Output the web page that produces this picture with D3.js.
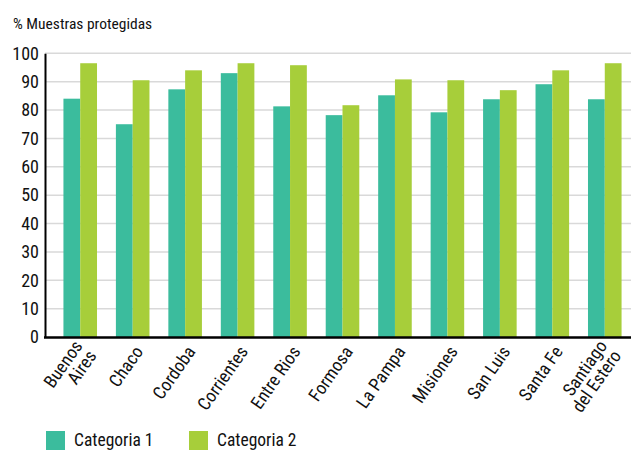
<!DOCTYPE html>
<html>
<head>
<meta charset="utf-8">
<script src="https://cdn.jsdelivr.net/npm/d3@7"></script>
<style>
  body { margin: 0; background: #fff; }
  text { font-family: "Roboto Condensed", "Roboto", sans-serif; fill: #111; }
</style>
</head>
<body>
<div id="chart"></div>
<script>
(function () {

  // provinces, two lines where the label wraps
  const provincias = ['Buenos Aires', 'Chaco', 'Cordoba', 'Corrientes', 'Entre Rios', 'Formosa',
    'La Pampa', 'Misiones', 'San Luis', 'Santa Fe', 'Santiago del Estero']
  const etiquetas = [['Buenos', 'Aires'], ['Chaco'], ['Cordoba'], ['Corrientes'], ['Entre Rios'], ['Formosa'],
    ['La Pampa'], ['Misiones'], ['San Luis'], ['Santa Fe'], ['Santiago', 'del Estero']]

  const categoria1 = [84, 75, 87.3, 93, 81.3, 78.2, 85.2, 79.2, 83.8, 89.1, 83.8]
  const categoria2 = [96.5, 90.5, 94, 96.5, 95.8, 81.7, 90.8, 90.5, 87, 94, 96.5]

  const series = ['Categoria 1', 'Categoria 2']
  const yTicks = [0, 10, 20, 30, 40, 50, 60, 70, 80, 90, 100]

  const width = 631
  const height = 450

  const svg = d3.select('#chart').append('svg')
    .attr('width', width)
    .attr('height', height)

  const xPositionScale = d3.scaleBand()
    .domain(provincias)
    .range([54, 631])
    .paddingInner(0.36)
    .paddingOuter(0.18)

  const xInner = d3.scaleBand()
    .domain(series)
    .range([0, xPositionScale.bandwidth()])

  const yPositionScale = d3.scaleLinear()
    .domain([0, 100])
    .range([337, 53.3])

  const colorScale = d3.scaleOrdinal()
    .domain(series)
    .range(['#3bbc9d', '#a7ce3a'])

  // gridlines
  svg.append('g')
    .selectAll('line')
    .data(yTicks.filter(d => d > 0))
    .join('line')
    .attr('x1', 45)
    .attr('x2', width)
    .attr('y1', d => yPositionScale(d))
    .attr('y2', d => yPositionScale(d))
    .attr('stroke', '#d9d9d9')
    .attr('stroke-width', 1.5)

  const datapoints = provincias.map((p, i) => ({
    provincia: p,
    valores: [categoria1[i], categoria2[i]]
  }))

  const groups = svg.append('g')
    .selectAll('g')
    .data(datapoints)
    .join('g')
    .attr('transform', d => 'translate(' + xPositionScale(d.provincia) + ',0)')

  groups.selectAll('rect')
    .data(d => d.valores.map((v, i) => ({ serie: series[i], valor: v })))
    .join('rect')
    .attr('x', d => xInner(d.serie))
    .attr('width', xInner.bandwidth())
    .attr('y', d => yPositionScale(d.valor))
    .attr('height', d => yPositionScale(0) - yPositionScale(d.valor))
    .attr('fill', d => colorScale(d.serie))

  // y axis
  const yAxis = d3.axisLeft(yPositionScale)
    .tickValues(yTicks)
    .tickSize(0)
    .tickPadding(6)
  const yG = svg.append('g')
    .attr('transform', 'translate(45,0)')
    .call(yAxis)
  yG.select('.domain').attr('stroke', '#000').attr('stroke-width', 2)
  yG.selectAll('text')
    .style('font-size', '18px')
    .style('font-family', '"Roboto Condensed", "Roboto", sans-serif')
    .attr('fill', '#111')

  // x axis line
  svg.append('line')
    .attr('x1', 44)
    .attr('x2', width)
    .attr('y1', 337.5)
    .attr('y2', 337.5)
    .attr('stroke', '#000')
    .attr('stroke-width', 2.5)

  // rotated x labels
  const labels = svg.append('g')
    .selectAll('text')
    .data(datapoints)
    .join('text')
    .attr('transform', (d, i) => {
      const cx = xPositionScale(d.provincia) + xPositionScale.bandwidth() / 2
      return 'translate(' + (cx + 6) + ',348) rotate(-55)'
    })
    .attr('text-anchor', 'end')
    .style('font-size', '18px')

  labels.each(function (d, i) {
    const lines = etiquetas[i]
    d3.select(this).selectAll('tspan')
      .data(lines)
      .join('tspan')
      .attr('x', 0)
      .attr('dy', (l, j) => j === 0 ? (lines.length > 1 ? '-0.2em' : '0.35em') : '0.95em')
      .text(l => l)
  })

  // title
  svg.append('text')
    .attr('x', 13)
    .attr('y', 29)
    .style('font-size', '15.5px')
    .text('% Muestras protegidas')

  // legend
  const legend = svg.append('g')
    .selectAll('g')
    .data(series)
    .join('g')
    .attr('transform', (d, i) => 'translate(' + (46 + i * 143) + ',431)')

  legend.append('rect')
    .attr('width', 19)
    .attr('height', 19)
    .attr('fill', d => colorScale(d))

  legend.append('text')
    .attr('x', 28)
    .attr('y', 15)
    .style('font-size', '17.5px')
    .text(d => d)

})();
</script>
</body>
</html>
